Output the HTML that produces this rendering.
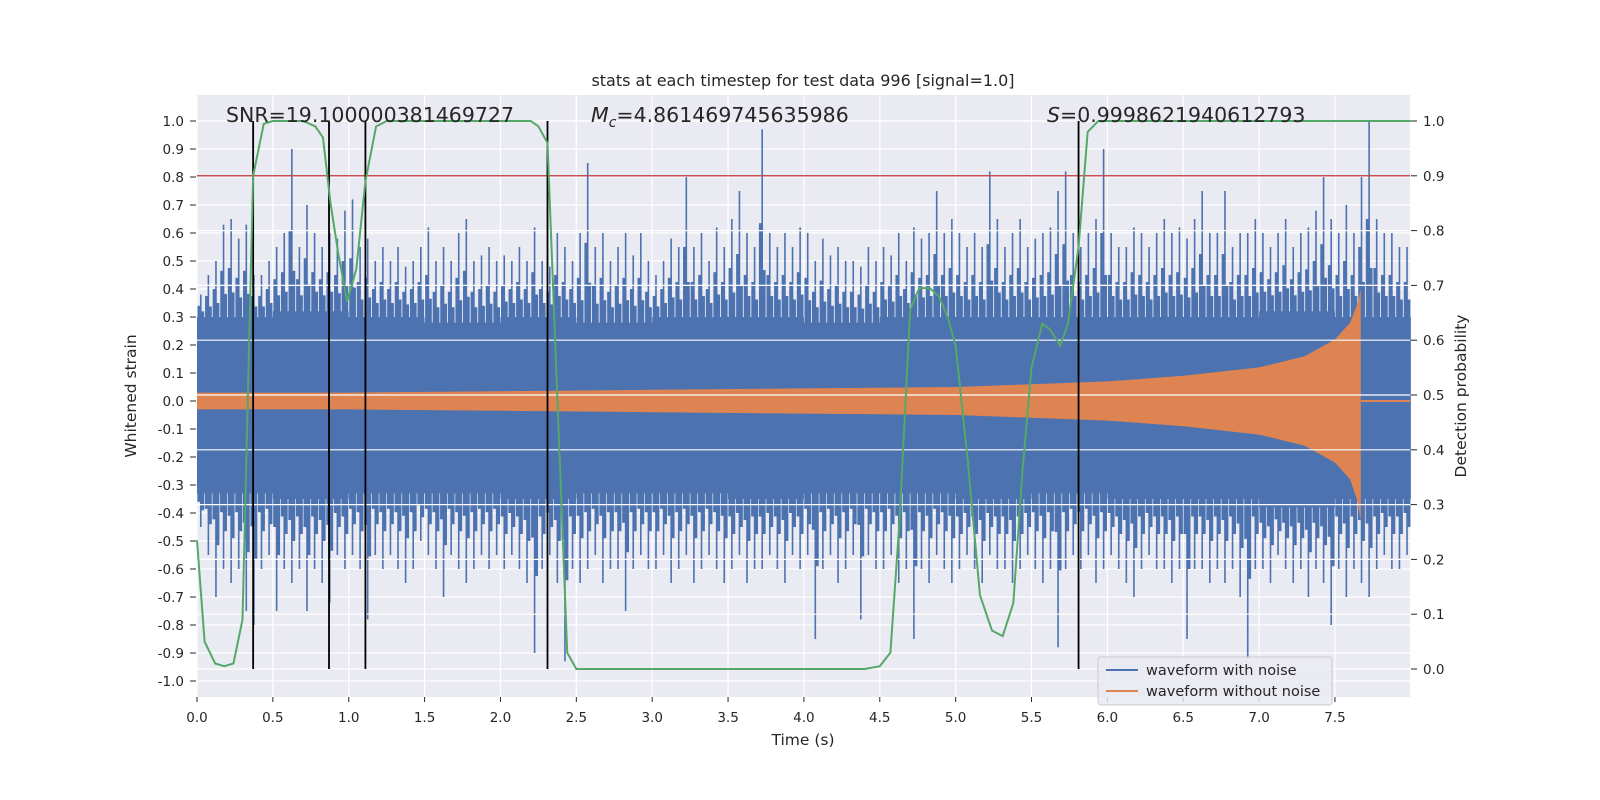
<!DOCTYPE html>
<html><head><meta charset="utf-8"><style>
body{margin:0;background:#fff;}
svg{display:block;font-family:"DejaVu Sans","Liberation Sans",sans-serif;}
</style></head><body>
<svg id="chart" width="1600" height="800" viewBox="0 0 1600 800">
<rect x="0" y="0" width="1600" height="800" fill="#fff"/>
<rect x="197" y="95" width="1213" height="602" fill="#eaeaf2"/>
<g id="g-grid1"></g><g id="g-blue"></g><g id="g-orange"></g><g id="g-grid2"></g><g id="g-red"></g><g id="g-vlines"></g><g id="g-green"></g><g id="g-axes"></g>
<text x="803" y="86" text-anchor="middle" font-size="16" fill="#262626">stats at each timestep for test data 996 [signal=1.0]</text>
<text x="226" y="122" font-size="20.5" fill="#262626">SNR=19.100000381469727</text>
<text x="591" y="122" font-size="20.5" fill="#262626"><tspan font-style="italic">M</tspan><tspan font-style="italic" font-size="14" dy="5">c</tspan><tspan dy="-5">=4.861469745635986</tspan></text>
<text x="1047" y="122" font-size="20.5" fill="#262626"><tspan font-style="italic">S</tspan>=0.9998621940612793</text>
<text x="803" y="745" text-anchor="middle" font-size="15.5" fill="#262626">Time (s)</text>
<text transform="translate(136,396) rotate(-90)" text-anchor="middle" font-size="15.5" fill="#262626">Whitened strain</text>
<text transform="translate(1466,396) rotate(-90)" text-anchor="middle" font-size="15.5" fill="#262626">Detection probability</text>
<g>
<rect x="1098" y="657" width="234" height="48" rx="3" fill="#eaeaf2" fill-opacity="0.85" stroke="#cccccc"/>
<line x1="1106" y1="670" x2="1138" y2="670" stroke="#4c72b0" stroke-width="2"/>
<text x="1146" y="675" font-size="14.5" fill="#262626">waveform with noise</text>
<line x1="1106" y1="691" x2="1138" y2="691" stroke="#dd8452" stroke-width="2"/>
<text x="1146" y="696" font-size="14.5" fill="#262626">waveform without noise</text>
</g>
</svg>
<script>
const upperPeaks=[.38,.45,.5,.63,.65,.58,.63,.45,.45,.5,
.55,.6,.9,.55,.7,.6,.55,.6,.58,.68,
.72,.55,.58,.5,.55,.5,.55,.48,.5,.55,
.62,.5,.55,.5,.6,.65,.5,.52,.55,.5,
.52,.5,.55,.5,.62,.5,.48,.6,.55,.5,
.6,.85,.55,.6,.5,.55,.6,.52,.6,.5,
.45,.5,.58,.55,.8,.55,.6,.5,.62,.55,
.65,.75,.6,.55,.97,.6,.55,.6,.55,.62,
.6,.5,.58,.52,.55,.5,.5,.48,.55,.5,
.55,.52,.6,.5,.62,.58,.6,.75,.6,.65,
.6,.55,.6,.55,.82,.65,.55,.6,.65,.55,
.58,.6,.62,.75,.82,.6,.55,.6,.65,.9,
.6,.55,.55,.62,.6,.55,.6,.65,.6,.62,
.58,.65,.75,.6,.6,.75,.55,.6,.6,.65,
.6,.55,.6,.65,.55,.6,.62,.68,.8,.65,
.6,.7,.6,.8,1.0,.65,.6,.6,.55,.55];
const lowerPeaks=[-.45,-.55,-.7,-.6,-.65,-.6,-.75,-.8,-.6,-.55,
-.75,-.6,-.65,-.6,-.75,-.6,-.65,-.72,-.55,-.6,
-.55,-.6,-.78,-.55,-.6,-.55,-.6,-.65,-.6,-.5,
-.55,-.6,-.7,-.55,-.6,-.65,-.6,-.55,-.6,-.55,
-.6,-.55,-.6,-.65,-.9,-.6,-.55,-.65,-.93,-.6,
-.65,-.6,-.55,-.65,-.6,-.6,-.75,-.6,-.55,-.6,
-.6,-.55,-.65,-.6,-.55,-.65,-.6,-.55,-.6,-.65,
-.6,-.55,-.65,-.6,-.6,-.55,-.6,-.65,-.55,-.6,
-.55,-.85,-.6,-.55,-.65,-.6,-.55,-.78,-.55,-.6,
-.6,-.55,-.65,-.6,-.85,-.6,-.65,-.55,-.6,-.65,
-.6,-.55,-.6,-.65,-.55,-.6,-.6,-.65,-.6,-.55,
-.6,-.65,-.6,-.88,-.6,-.55,-.6,-.55,-.65,-.6,
-.55,-.6,-.65,-.7,-.6,-.55,-.6,-.6,-.65,-.6,
-.85,-.6,-.6,-.65,-.6,-.65,-.6,-.7,-.92,-.6,
-.6,-.65,-.55,-.6,-.65,-.6,-.7,-.6,-.65,-.8,
-.6,-.7,-.6,-.65,-.7,-.6,-.55,-.6,-.6,-.55];
const coreUp=[.3,.32,.3,.28,.3,.28,.3,.3,.28,.3,.3,.3,.3,.3,.32,.3];
const coreLo=[-.33,-.35,-.33,-.33,-.35,-.33,-.33,-.35,-.33,-.33,-.35,-.33,-.35,-.35,-.38,-.35];
const orangeT=[0,1,2,3,4,5,5.5,6,6.5,7,7.3,7.5,7.6,7.65,7.67];
const orangeUp=[0.03,0.03,0.035,0.04,0.045,0.05,0.06,0.07,0.09,0.12,0.16,0.22,0.28,0.35,0.4];
const orangeLo=[-0.03,-0.03,-0.035,-0.04,-0.045,-0.05,-0.06,-0.07,-0.09,-0.12,-0.16,-0.22,-0.28,-0.36,-0.43];
const probT=[0,0.05,0.12,0.18,0.24,0.3,0.37,0.44,0.5,0.7,0.78,0.83,0.88,0.93,0.99,1.05,1.11,1.18,1.25,2.2,2.25,2.31,2.37,2.44,2.5,4.4,4.5,4.57,4.63,4.7,4.76,4.83,4.89,4.95,5.0,5.08,5.16,5.24,5.31,5.38,5.44,5.5,5.57,5.62,5.69,5.74,5.81,5.87,5.94,8.0];
const probV=[0.235,0.05,0.01,0.005,0.01,0.09,0.9,0.995,1.0,1.0,0.99,0.97,0.85,0.76,0.67,0.73,0.89,0.99,1.0,1.0,0.99,0.96,0.53,0.03,0,0,0.005,0.03,0.27,0.655,0.695,0.695,0.68,0.64,0.59,0.38,0.135,0.07,0.06,0.12,0.36,0.55,0.63,0.62,0.59,0.63,0.77,0.98,1.0,1.0];
const eventTimes=[0.37,0.87,1.11,2.31,5.81];
const threshold=[0.9];
const xTicks=[0,0.5,1,1.5,2,2.5,3,3.5,4,4.5,5,5.5,6,6.5,7,7.5];
const yTicks=[-1,-0.9,-0.8,-0.7,-0.6,-0.5,-0.4,-0.3,-0.2,-0.1,0,0.1,0.2,0.3,0.4,0.5,0.6,0.7,0.8,0.9,1.0];
const y2Ticks=[0,0.1,0.2,0.3,0.4,0.5,0.6,0.7,0.8,0.9,1.0];

const NS='http://www.w3.org/2000/svg';
const X=t=>197+t*151.73;
const Y=v=>401-v*280;
const Y2=p=>669-p*548;
function mk(tag,attrs,parent){const e=document.createElementNS(NS,tag);for(const k in attrs)e.setAttribute(k,attrs[k]);document.getElementById(parent).appendChild(e);return e;}
const f1=v=>v.toFixed(1);

xTicks.forEach(t=>{const l=mk('line',{x1:X(t),x2:X(t),y1:95,y2:697,stroke:'#fff','stroke-width':1.2},'g-grid1');

});
yTicks.forEach(v=>{const l=mk('line',{x1:197,x2:1410,y1:Y(v),y2:Y(v),stroke:'#fff','stroke-width':1.2},'g-grid1');

});
y2Ticks.forEach(p=>{const l=mk('line',{x1:197,x2:1410,y1:Y2(p),y2:Y2(p),stroke:'#fff','stroke-width':1.2},'g-grid2');

});

let pts=[];
coreUp.forEach((v,i)=>{pts.push(X(i*0.5)+','+Y(v));pts.push(X(i*0.5+0.5)+','+Y(v));});
for(let i=coreLo.length-1;i>=0;i--){pts.push(X(i*0.5+0.5)+','+Y(coreLo[i]));pts.push(X(i*0.5)+','+Y(coreLo[i]));}
const core=mk('polygon',{points:pts.join(' '),fill:'#4c72b0'},'g-blue');


const bw=0.05;
const bpx=X(bw)-X(0);
upperPeaks.forEach((v,i)=>{
 const c=Math.floor(i/10);
 const xc=X(i*bw+bw/2);
 const l=mk('line',{x1:xc,x2:xc,y1:Y(v),y2:Y(lowerPeaks[i]),stroke:'#4c72b0','stroke-width':1.6},'g-blue');
 
 
 const mu=(v+coreUp[c])/2, ml=(lowerPeaks[i]+coreLo[c])/2;
 const h=Y(mu);
 const r=mk('rect',{x:X(i*bw)+0.5,y:h,width:bpx*0.45,height:Y(0)-h,fill:'#4c72b0'},'g-blue');
 
 
 const h3=Y((mu+coreUp[c])/2);
 const r3=mk('rect',{x:X(i*bw)+bpx*0.55,y:h3,width:bpx*0.4,height:Y(0)-h3,fill:'#4c72b0'},'g-blue');
 
 
 const h2=Y(ml);
 const r2=mk('rect',{x:X(i*bw)+bpx*0.5,y:Y(0),width:bpx*0.45,height:h2-Y(0),fill:'#4c72b0'},'g-blue');
 
 
 const h4=Y((ml+coreLo[c])/2);
 const r4=mk('rect',{x:X(i*bw)+0.3,y:Y(0),width:bpx*0.4,height:h4-Y(0),fill:'#4c72b0'},'g-blue');
 
 
});

let op=[];
orangeT.forEach((t,i)=>op.push(X(t)+','+Y(orangeUp[i])));
for(let i=orangeT.length-1;i>=0;i--)op.push(X(orangeT[i])+','+Y(orangeLo[i]));
const orng=mk('polygon',{points:op.join(' '),fill:'#dd8452'},'g-orange');


const tail=mk('line',{x1:X(orangeT[orangeT.length-1]),x2:1410,y1:Y(0),y2:Y(0),stroke:'#dd8452','stroke-width':2},'g-orange');



threshold.forEach(p=>{const l=mk('line',{x1:197,x2:1410,y1:Y2(p),y2:Y2(p),stroke:'#c44e52','stroke-width':1.5},'g-red');

});
eventTimes.forEach(t=>{const l=mk('line',{x1:X(t),x2:X(t),y1:Y2(1),y2:Y2(0),stroke:'#000','stroke-width':1.8},'g-vlines');

});
const gp=probT.map((t,i)=>X(t)+','+Y2(probV[i])).join(' ');
const g=mk('polyline',{points:gp,fill:'none',stroke:'#55a868','stroke-width':2},'g-green');



xTicks.forEach(t=>{
 const tk=mk('line',{x1:X(t),x2:X(t),y1:697,y2:702,stroke:'#262626','stroke-width':1},'g-axes');
 
 
 const tx=mk('text',{x:X(t),y:722,'text-anchor':'middle','font-size':13.5,fill:'#262626'},'g-axes');
 tx.textContent=f1(t);
 
 
});
yTicks.forEach(v=>{
 const tk=mk('line',{x1:190,x2:196,y1:Y(v),y2:Y(v),stroke:'#262626','stroke-width':1},'g-axes');
 
 
 const tx=mk('text',{x:184,y:Y(v)+5,'text-anchor':'end','font-size':13.5,fill:'#262626'},'g-axes');
 tx.textContent=f1(v);
 
 
});
y2Ticks.forEach(p=>{
 const tk=mk('line',{x1:1411,x2:1417,y1:Y2(p),y2:Y2(p),stroke:'#262626','stroke-width':1},'g-axes');
 
 
 const tx=mk('text',{x:1423,y:Y2(p)+5,'font-size':13.5,fill:'#262626'},'g-axes');
 tx.textContent=f1(p);
 
 
});
</script>
</body></html>
